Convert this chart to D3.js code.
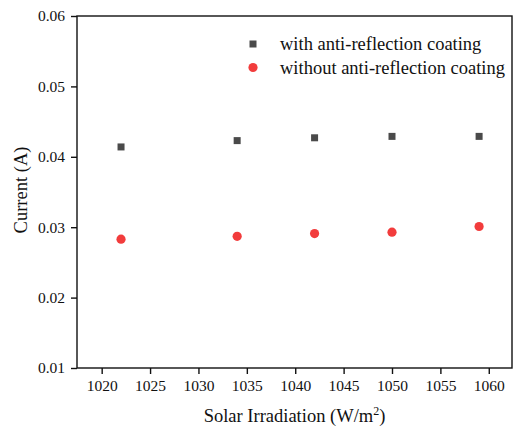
<!DOCTYPE html>
<meta charset="utf-8">
<style>
    body { margin: 0; background: #fff; }
    .chart text { font-family: "Liberation Serif", "Times New Roman", serif; fill: #111; }
    .axis path, .axis line { stroke: #111; stroke-width: 1.4; }
    .chart .axis .tick text { font-size: 15.5px; }
</style>
<svg class="chart"></svg>
<script src="https://cdn.jsdelivr.net/npm/d3@7/dist/d3.min.js"></script>
<script>
    var irradiation = [1022, 1034, 1042, 1050, 1059];
    var withCoating = [0.0414, 0.0423, 0.0427, 0.0429, 0.0429];
    var withoutCoating = [0.0283, 0.0287, 0.0291, 0.0293, 0.0301];
    var xTicks = [1020, 1025, 1030, 1035, 1040, 1045, 1050, 1055, 1060];
    var yTicks = [0.01, 0.02, 0.03, 0.04, 0.05, 0.06];
    var seriesNames = ["with anti-reflection coating", "without anti-reflection coating"];

    var width = 515, height = 426;
    var margin = { top: 16, right: 3, bottom: 58, left: 77 };
    var w = width - margin.left - margin.right,
        h = height - margin.top - margin.bottom;

    var svg = d3.select(".chart")
        .attr("width", width)
        .attr("height", height);

    var g = svg.append("g")
        .attr("transform", "translate(" + margin.left + "," + margin.top + ")");

    var x = d3.scaleLinear().domain([1017.45, 1062.4]).range([0, w]);
    var y = d3.scaleLinear().domain([0.01, 0.06]).range([h, 0]);

    // frame
    g.append("rect")
        .attr("width", w).attr("height", h)
        .attr("fill", "none").attr("stroke", "#111").attr("stroke-width", 1.4);

    var xAxis = g.append("g")
        .attr("class", "axis")
        .attr("transform", "translate(0," + h + ")")
        .call(d3.axisBottom(x).tickValues(xTicks).tickSize(6).tickPadding(6).tickFormat(d3.format("d")));

    var yAxis = g.append("g")
        .attr("class", "axis")
        .call(d3.axisLeft(y).tickValues(yTicks).tickSize(6).tickPadding(6).tickFormat(d3.format(".2f")));

    [xAxis, yAxis].forEach(function (a) {
        a.select(".domain").remove();
        a.attr("font-size", 15.5).attr("font-family", "Liberation Serif, serif");
        a.selectAll(".tick text")
            .attr("font-size", 15.5)
            .style("font-size", "15.5px");
    });

    var pts = irradiation.map(function (d, i) {
        return { x: d, a: withCoating[i], b: withoutCoating[i] };
    });

    var sq = 7;
    g.selectAll(".sq")
        .data(pts)
        .enter().append("rect")
        .attr("x", function (d) { return x(d.x) - sq / 2; })
        .attr("y", function (d) { return y(d.a) - sq / 2; })
        .attr("width", sq).attr("height", sq)
        .attr("fill", "#4a4a4a");

    g.selectAll(".dot")
        .data(pts)
        .enter().append("circle")
        .attr("cx", function (d) { return x(d.x); })
        .attr("cy", function (d) { return y(d.b); })
        .attr("r", 4.6)
        .attr("fill", "#f23c3c");

    // legend
    var legend = svg.append("g").attr("transform", "translate(253,44)");
    legend.append("rect")
        .attr("x", -sq / 2).attr("y", -sq / 2)
        .attr("width", sq).attr("height", sq)
        .attr("fill", "#4a4a4a");
    legend.append("circle")
        .attr("cy", 23.5).attr("r", 4.6)
        .attr("fill", "#f23c3c");
    legend.selectAll("text")
        .data(seriesNames)
        .enter().append("text")
        .attr("x", 27)
        .attr("y", function (d, i) { return i * 23.5; })
        .attr("dy", ".33em")
        .style("font-size", "18.5px")
        .text(function (d) { return d; });

    // axis titles
    svg.append("text")
        .attr("x", margin.left + w / 2)
        .attr("y", 422)
        .attr("text-anchor", "middle")
        .style("font-size", "18.5px")
        .html('Solar Irradiation (W/m<tspan dy="-7" font-size="12px">2</tspan><tspan dy="7">)</tspan>');

    svg.append("text")
        .attr("transform", "translate(27,190) rotate(-90)")
        .attr("text-anchor", "middle")
        .style("font-size", "18.5px")
        .text("Current (A)");
</script>
